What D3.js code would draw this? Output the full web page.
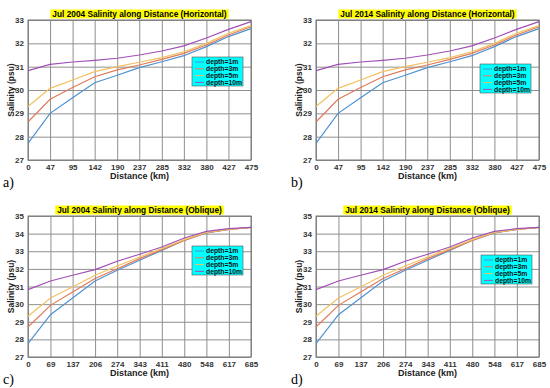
<!DOCTYPE html>
<html>
<head>
<meta charset="utf-8">
<script src="https://cdn.jsdelivr.net/npm/d3@7"></script>
<style>
  body { margin: 0; background: #fff; }
</style>
</head>
<body>
<svg width="550" height="388" font-family="Liberation Sans, Arial, sans-serif"></svg>
<script>
// distance ticks (km)
var distH = [0, 47, 95, 142, 190, 237, 285, 332, 380, 427, 475];
var distO = [0, 69, 137, 206, 274, 343, 411, 480, 548, 617, 685];
var depths = ["depth=1m", "depth=3m", "depth=5m", "depth=10m"];

// salinity, horizontal transect
var h2004_1m  = [27.71, 29.0, 29.67, 30.31, 30.63, 30.96, 31.21, 31.47, 31.86, 32.29, 32.63];
var h2004_3m  = [28.63, 29.6, 30.11, 30.57, 30.86, 31.07, 31.31, 31.57, 31.93, 32.36, 32.71];
var h2004_5m  = [29.29, 30.07, 30.43, 30.79, 31.0, 31.19, 31.39, 31.64, 32.0, 32.43, 32.76];
var h2004_10m = [30.83, 31.1, 31.2, 31.27, 31.36, 31.5, 31.67, 31.89, 32.23, 32.6, 32.93];

var h2014_1m  = [27.71, 29.0, 29.67, 30.31, 30.63, 30.96, 31.21, 31.47, 31.86, 32.29, 32.63];
var h2014_3m  = [28.63, 29.6, 30.11, 30.57, 30.86, 31.07, 31.31, 31.57, 31.93, 32.36, 32.71];
var h2014_5m  = [29.29, 30.07, 30.43, 30.79, 31.0, 31.19, 31.39, 31.64, 32.0, 32.43, 32.76];
var h2014_10m = [30.83, 31.1, 31.2, 31.27, 31.36, 31.5, 31.67, 31.89, 32.23, 32.6, 32.93];

// salinity, oblique transect
var o2004_1m  = [27.76, 29.4, 30.35, 31.31, 31.92, 32.49, 33.05, 33.62, 34.04, 34.24, 34.36];
var o2004_3m  = [28.7, 29.93, 30.69, 31.45, 32.01, 32.58, 33.09, 33.62, 34.05, 34.24, 34.36];
var o2004_5m  = [29.31, 30.35, 30.97, 31.64, 32.16, 32.67, 33.15, 33.66, 34.07, 34.24, 34.36];
var o2004_10m = [30.82, 31.31, 31.64, 31.96, 32.43, 32.83, 33.24, 33.75, 34.13, 34.28, 34.36];

var o2014_1m  = [27.76, 29.4, 30.35, 31.31, 31.92, 32.49, 33.05, 33.62, 34.04, 34.24, 34.36];
var o2014_3m  = [28.7, 29.93, 30.69, 31.45, 32.01, 32.58, 33.09, 33.62, 34.05, 34.24, 34.36];
var o2014_5m  = [29.31, 30.35, 30.97, 31.64, 32.16, 32.67, 33.15, 33.66, 34.07, 34.24, 34.36];
var o2014_10m = [30.82, 31.31, 31.64, 31.96, 32.43, 32.83, 33.24, 33.75, 34.13, 34.28, 34.36];

var colors = ["#4f92d0", "#e07a5c", "#f3c15e", "#a150b5"];

var svg = d3.select("svg");

function styleTicks(s) {
  s.select(".domain").remove();
  s.selectAll("text").attr("font-size", 8).attr("font-weight", "bold").attr("fill", "#333")
    .attr("font-family", "Liberation Sans, Arial, sans-serif");
}

/* one subplot */
function drawPanel(p) {
  var x = d3.scaleLinear().domain([0, p.dist[p.dist.length - 1]]).range([p.x0, p.x1]);
  var y = d3.scaleLinear().domain(p.yDom).range([p.y1, p.y0]);
  var yTicks = d3.range(p.yDom[0], p.yDom[1] + 1);
  var g = svg.append("g");

  // grid
  g.append("g")
    .attr("transform", "translate(0," + p.y1 + ")")
    .call(d3.axisBottom(x).tickValues(p.dist).tickSize(-(p.y1 - p.y0)).tickFormat(""))
    .call(function(s) { s.select(".domain").remove(); s.selectAll("line").attr("stroke", "#8f8f8f"); });
  g.append("g")
    .attr("transform", "translate(" + p.x0 + ",0)")
    .call(d3.axisLeft(y).tickValues(yTicks).tickSize(-(p.x1 - p.x0)).tickFormat(""))
    .call(function(s) { s.select(".domain").remove(); s.selectAll("line").attr("stroke", "#8f8f8f"); });

  g.append("rect")
    .attr("x", p.x0).attr("y", p.y0)
    .attr("width", p.x1 - p.x0).attr("height", p.y1 - p.y0)
    .attr("fill", "none").attr("stroke", "#777").attr("stroke-width", 1);

  // tick labels
  g.append("g")
    .attr("transform", "translate(0," + p.y1 + ")")
    .call(d3.axisBottom(x).tickValues(p.dist).tickSize(0).tickPadding(4).tickFormat(d3.format("d")))
    .call(styleTicks);
  g.append("g")
    .attr("transform", "translate(" + p.x0 + ",0)")
    .call(d3.axisLeft(y).tickValues(yTicks).tickSize(0).tickPadding(4).tickFormat(d3.format("d")))
    .call(styleTicks);

  // lines
  var line = d3.line().x(function(d, i) { return x(p.dist[i]); }).y(function(d) { return y(d); });
  p.series.forEach(function(s, i) {
    g.append("path").datum(s)
      .attr("d", line).attr("fill", "none")
      .attr("stroke", colors[i]).attr("stroke-width", 1.2);
  });

  // title with yellow box
  var cx = (p.x0 + p.x1) / 2;
  var tb = g.append("rect").attr("fill", "#ffff00");
  var t = g.append("text")
    .attr("x", cx).attr("y", p.y0 - 3)
    .attr("text-anchor", "middle")
    .attr("font-size", 8.3).attr("font-weight", "bold")
    .text(p.title);
  var w = t.node().getComputedTextLength();
  tb.attr("x", cx - w / 2 - 2).attr("y", p.y0 - 10.5).attr("width", w + 4).attr("height", 9);

  // axis labels
  g.append("text")
    .attr("x", cx).attr("y", p.y1 + 19)
    .attr("text-anchor", "middle")
    .attr("font-size", 9).attr("font-weight", "bold").attr("fill", "#222")
    .text("Distance (km)");
  g.append("text")
    .attr("transform", "translate(" + (p.x0 - 14) + "," + ((p.y0 + p.y1) / 2) + ") rotate(-90)")
    .attr("text-anchor", "middle")
    .attr("font-size", 8.5).attr("font-weight", "bold").attr("fill", "#222")
    .text("Salinity (psu)");

  // panel letter
  g.append("text")
    .attr("x", p.x0 - 25).attr("y", p.y1 + 27)
    .attr("font-family", "Liberation Serif, Times New Roman, serif")
    .attr("font-size", 14)
    .text(p.letter);

  // legend
  var lg = g.append("g").attr("transform", "translate(" + p.lx + "," + p.ly + ")");
  lg.append("rect").attr("width", 51).attr("height", 29)
    .attr("fill", "#00ffff").attr("stroke", "#555").attr("stroke-width", 0.6);
  depths.forEach(function(d, i) {
    var yy = 5 + i * 6.8;
    lg.append("line").attr("x1", 3).attr("x2", 12).attr("y1", yy).attr("y2", yy)
      .attr("stroke", colors[i]).attr("stroke-width", 1);
    lg.append("text").attr("x", 14).attr("y", yy + 2.3)
      .attr("font-size", 6.8).attr("font-weight", "bold").attr("fill", "#111")
      .text(d);
  });
}

drawPanel({ title: "Jul 2004 Salinity along Distance (Horizontal)", letter: "a)",
  dist: distH, yDom: [27, 33], x0: 28, x1: 251, y0: 20, y1: 160, lx: 192, ly: 57,
  series: [h2004_1m, h2004_3m, h2004_5m, h2004_10m] });
drawPanel({ title: "Jul 2014 Salinity along Distance (Horizontal)", letter: "b)",
  dist: distH, yDom: [27, 33], x0: 316, x1: 539, y0: 20, y1: 160, lx: 480, ly: 64,
  series: [h2014_1m, h2014_3m, h2014_5m, h2014_10m] });
drawPanel({ title: "Jul 2004 Salinity along Distance (Oblique)", letter: "c)",
  dist: distO, yDom: [27, 35], x0: 28, x1: 251, y0: 216, y1: 357, lx: 192, ly: 246,
  series: [o2004_1m, o2004_3m, o2004_5m, o2004_10m] });
drawPanel({ title: "Jul 2014 Salinity along Distance (Oblique)", letter: "d)",
  dist: distO, yDom: [27, 35], x0: 316, x1: 539, y0: 216, y1: 357, lx: 481, ly: 255,
  series: [o2014_1m, o2014_3m, o2014_5m, o2014_10m] });
</script>
</body>
</html>
